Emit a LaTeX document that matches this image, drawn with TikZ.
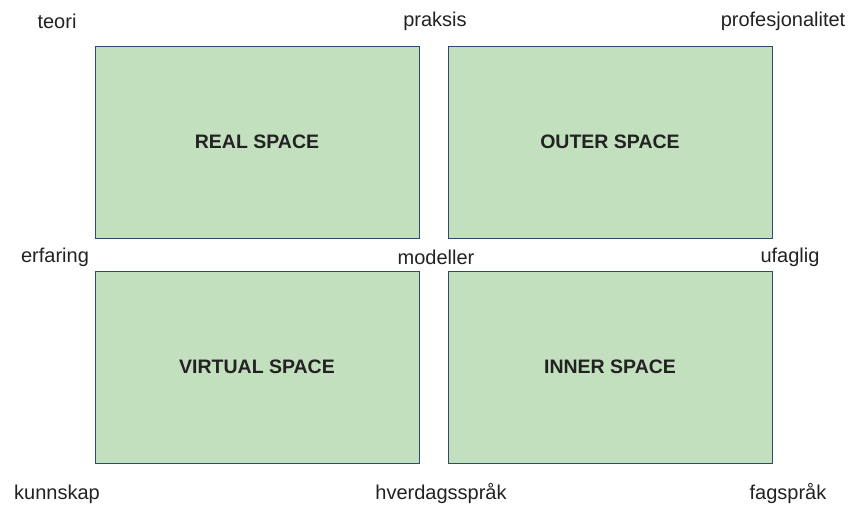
\documentclass[tikz,border=0pt]{standalone}
\usepackage{fontspec}
\setmainfont{Liberation Sans}
\definecolor{boxgreen}{HTML}{C3E0BE}
\definecolor{boxline}{HTML}{2F4A6A}
\definecolor{txt}{HTML}{222222}
\begin{document}
\begin{tikzpicture}[x=1pt, y=-1pt]
    \tikzset{
        space/.style={draw=boxline, line width=1pt, fill=boxgreen, minimum width=324pt,
            minimum height=192pt, inner sep=0pt, font=\fontsize{19.5}{22}\selectfont\bfseries, text=txt},
        word/.style={font=\fontsize{20}{23}\selectfont, text=txt, inner sep=0pt}
    }
    \useasboundingbox (0,0) rectangle (864,506);
    % the four spaces
    \node[space] (real) at (257,142) {REAL SPACE};
    \node[space] (outer) at (610,142) {OUTER SPACE};
    \node[space] (virtual) at (257,367) {VIRTUAL SPACE};
    \node[space] (inner) at (610,367) {INNER SPACE};
    % words round them
    \node[word] (teori) at (57,21) {teori};
    \node[word] (praksis) at (435,21) {praksis};
    \node[word] (prof) at (783,21) {profesjonalitet};
    \node[word] (erfaring) at (55,257) {erfaring};
    \node[word] (modeller) at (436,257) {modeller};
    \node[word] (ufaglig) at (790,257) {ufaglig};
    \node[word] (kunnskap) at (57,494) {kunnskap};
    \node[word] (hverdag) at (441,494) {hverdagsspråk};
    \node[word] (fagsprak) at (788,494) {fagspråk};
\end{tikzpicture}
\end{document}
